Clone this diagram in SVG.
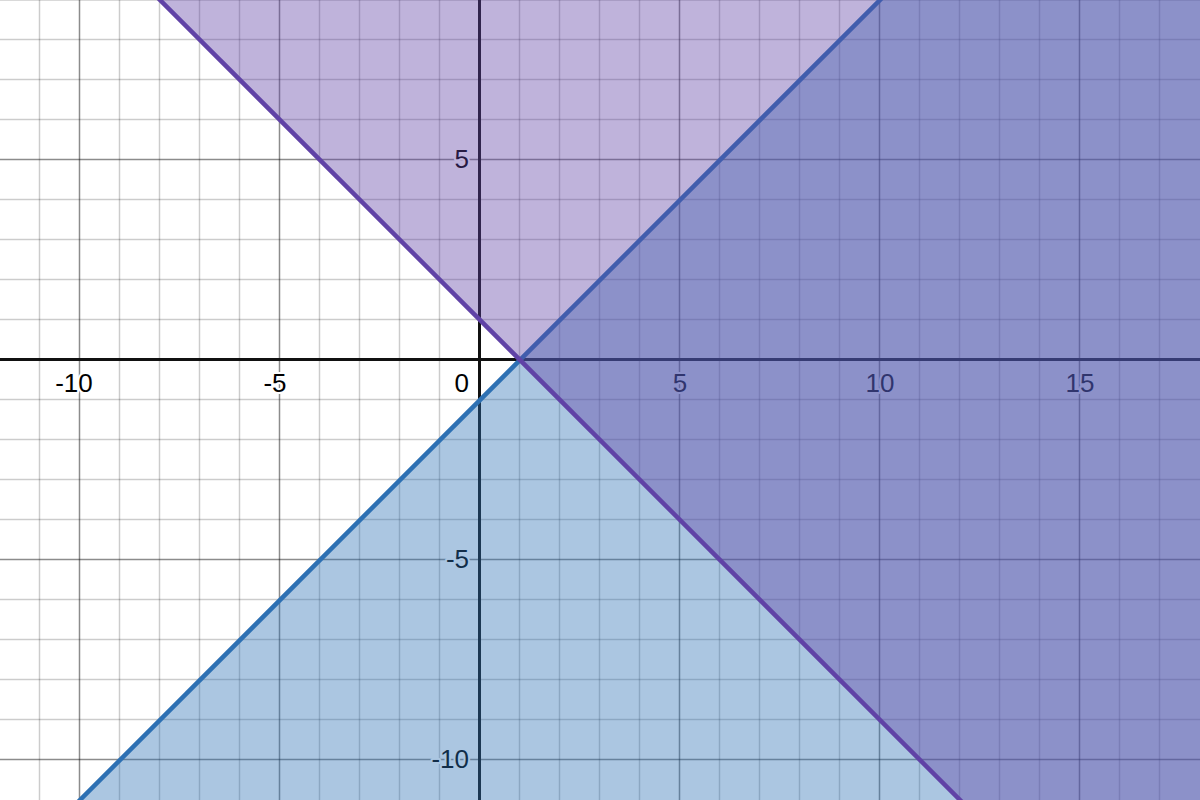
<svg xmlns="http://www.w3.org/2000/svg" width="1200" height="800" viewBox="0 0 1200 800">
<style>
.minor{stroke:#000;stroke-opacity:0.2;stroke-width:1.5}
.major{stroke:#000;stroke-opacity:0.45;stroke-width:1.5}
.axis{stroke:#111;stroke-width:3}
.lbl{font-family:"Liberation Sans",Arial,sans-serif;font-size:26px;fill:#000;stroke:#fff;stroke-width:4;stroke-linejoin:round;paint-order:stroke}
.xl{text-anchor:middle}
.yl{text-anchor:end}
</style>
<rect x="0" y="0" width="1200" height="800" fill="#fff"/>
<g id="grid-minor" class="minor">
<path d="M39.5,0V800M119.5,0V800M159.5,0V800M199.5,0V800M239.5,0V800M319.5,0V800M359.5,0V800M399.5,0V800M439.5,0V800M519.5,0V800M559.5,0V800M599.5,0V800M639.5,0V800M719.5,0V800M759.5,0V800M799.5,0V800M839.5,0V800M919.5,0V800M959.5,0V800M999.5,0V800M1039.5,0V800M1119.5,0V800M1159.5,0V800"/>
<path d="M0,0H1200M0,39.5H1200M0,79.5H1200M0,119.5H1200M0,199.5H1200M0,239.5H1200M0,279.5H1200M0,319.5H1200M0,399.5H1200M0,439.5H1200M0,479.5H1200M0,519.5H1200M0,599.5H1200M0,639.5H1200M0,679.5H1200M0,719.5H1200"/>
</g>
<g id="grid-major" class="major">
<path d="M79.5,0V800M279.5,0V800M679.5,0V800M879.5,0V800M1079.5,0V800"/>
<path d="M0,159.5H1200M0,559.5H1200M0,759.5H1200"/>
</g>
<g id="axes" class="axis">
<path d="M0,359.5H1200"/>
<path d="M479.5,0V800"/>
</g>
<g id="labels" class="lbl">
<text class="xl" x="74" y="392">-10</text>
<text class="xl" x="275" y="392">-5</text>
<text class="yl" x="469" y="392">0</text>
<text class="xl" x="680" y="392">5</text>
<text class="xl" x="880" y="392">10</text>
<text class="xl" x="1080" y="392">15</text>
<text class="yl" x="469" y="168">5</text>
<text class="yl" x="469" y="568">-5</text>
<text class="yl" x="469" y="768">-10</text>
</g>
<g id="region-blue">
<polygon points="880,0 1200,0 1200,800 80,800" fill="#2d70b3" fill-opacity="0.4"/>
<line x1="890" y1="-10" x2="70" y2="810" stroke="#2d70b3" stroke-width="4.5"/>
</g>
<g id="region-purple">
<polygon points="160,0 1200,0 1200,800 960,800" fill="#6042a6" fill-opacity="0.4"/>
<line x1="150" y1="-10" x2="970" y2="810" stroke="#6042a6" stroke-width="4.5"/>
</g>
</svg>
